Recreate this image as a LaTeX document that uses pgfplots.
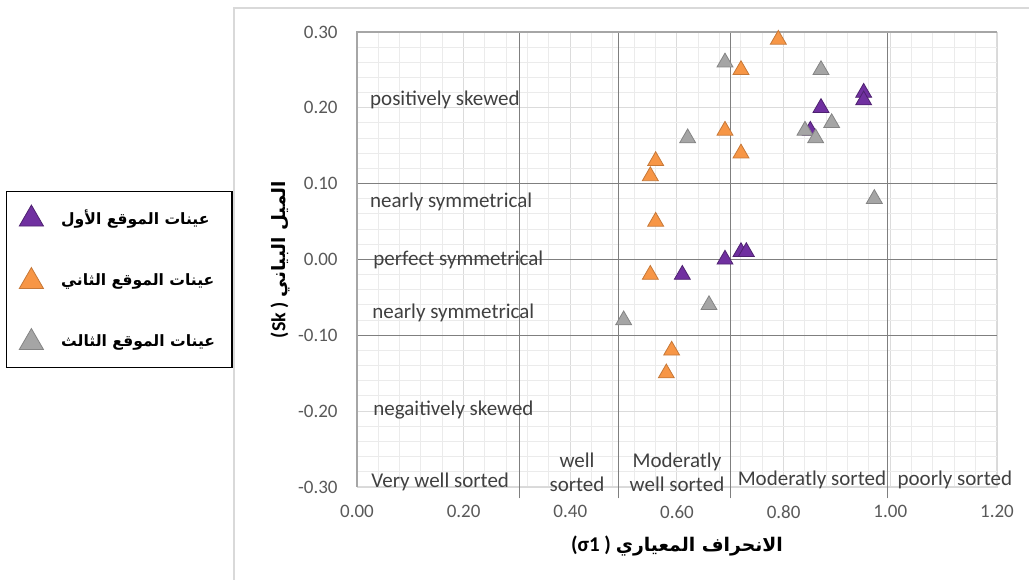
\documentclass[border=0pt]{standalone}
\usepackage{fontspec}
\setmainfont{Carlito}
\newfontfamily\arabicfont[Script=Arabic]{DejaVu Sans}
\TeXXeTstate=1
\usepackage{pgfplots}
\pgfplotsset{compat=1.18}
\pgfplotsset{tri legend/.style={legend image code/.code={\path (0cm,0cm) (0.6cm,0cm);\draw[##1,mark size=7pt] plot coordinates {(0.16cm,0cm)};}}}
\definecolor{cpurple}{HTML}{7030A0}
\definecolor{corange}{HTML}{F79646}
\definecolor{cgray}{HTML}{A5A5A5}
\definecolor{txt}{HTML}{404040}
\definecolor{tickc}{HTML}{595959}
\definecolor{bound}{HTML}{7F7F7F}
\begin{document}
\begin{tikzpicture}
\path[use as bounding box] (-178.5pt,-48pt) rectangle (336pt,243.5pt);
\begin{axis}[
  at={(0,0)}, anchor=south west,
  scale only axis, width=320pt, height=227.5pt,
  xmin=0, xmax=1.2, ymin=-0.3, ymax=0.3,
  clip=false,
  xtick={0,0.2,0.4,0.6,0.8,1.0,1.2},
  xticklabels={0.00,0.20,0.40,0.60,0.80,1.00,1.20},
  ytick={-0.3,-0.2,-0.1,0,0.1,0.2,0.3},
  yticklabels={-0.30,-0.20,-0.10,0.00,0.10,0.20,0.30},
  minor x tick num=4, minor y tick num=4,
  grid=both,
  major grid style={draw=black!14, line width=0.5pt},
  minor grid style={draw=black!8, line width=0.5pt},
  major tick length=0pt, minor tick length=0pt,
  axis line style={draw=black!15},
  tick label style={font=\fontsize{9.5}{11}\selectfont, text=tickc, inner sep=0pt},
  yticklabel style={xshift=-9.5pt},
  xticklabel style={yshift=-9pt},
  xlabel={\fontsize{10.5}{12}\selectfont\bfseries (σ1 ) {\arabicfont\fontsize{9.4}{11}\selectfont\beginR الانحراف المعياري\endR}},
  ylabel={\fontsize{10}{12}\selectfont\bfseries (Sk ) {\arabicfont\fontsize{9.2}{11}\selectfont\beginR الميل البياني\endR}},
  xlabel style={at={(axis description cs:0.5,-0.13)}, anchor=center, inner sep=0pt},
  ylabel style={at={(axis description cs:-0.12,0.5)}, anchor=center, inner sep=0pt},
  legend style={at={(-0.194,0.456)}, anchor=east, draw=black, line width=0.75pt,
    fill=white, font=\arabicfont\bfseries\fontsize{7.8}{10}\selectfont,
    row sep=17.8pt, inner xsep=6.5pt, inner ysep=6.8pt},
  legend cell align=left,
]
% category boundaries
\draw[bound, line width=0.75pt] (axis cs:0.305,-0.315) -- (axis cs:0.305,0.3);
\draw[bound, line width=0.75pt] (axis cs:0.49,-0.315) -- (axis cs:0.49,0.3);
\draw[bound, line width=0.75pt] (axis cs:0.70,-0.315) -- (axis cs:0.70,0.3);
\draw[bound, line width=0.75pt] (axis cs:0.995,-0.315) -- (axis cs:0.995,0.3);
\draw[bound, line width=0.75pt] (axis cs:0,0.1) -- (axis cs:1.2,0.1);
\draw[bound, line width=0.75pt] (axis cs:0,0) -- (axis cs:1.2,0);
\draw[bound, line width=0.75pt] (axis cs:0,-0.1) -- (axis cs:1.2,-0.1);
\draw[black!35, line width=0.75pt] (axis cs:0,-0.3) -- (axis cs:0,0.3) -- (axis cs:1.2,0.3);

\addplot[only marks, mark=triangle*, mark size=4.6pt,
  mark options={fill=cpurple, draw=cpurple!70!black, line width=0.4pt}, tri legend]
  coordinates {(0.95,0.22)(0.95,0.21)(0.87,0.20)(0.85,0.17)(0.72,0.01)(0.73,0.01)(0.69,0.00)(0.61,-0.02)};
\addlegendentry{\beginR عينات الموقع الأول\endR}
\addplot[only marks, mark=triangle*, mark size=4.6pt,
  mark options={fill=corange, draw=corange!80!black, line width=0.4pt}, tri legend]
  coordinates {(0.79,0.29)(0.72,0.25)(0.69,0.17)(0.72,0.14)(0.56,0.13)(0.55,0.11)(0.56,0.05)(0.55,-0.02)(0.59,-0.12)(0.58,-0.15)};
\addlegendentry{\beginR عينات الموقع الثاني\endR}
\addplot[only marks, mark=triangle*, mark size=4.6pt,
  mark options={fill=cgray, draw=cgray!80!black, line width=0.4pt}, tri legend]
  coordinates {(0.69,0.26)(0.87,0.25)(0.62,0.16)(0.89,0.18)(0.84,0.17)(0.86,0.16)(0.97,0.08)(0.66,-0.06)(0.50,-0.08)};
\addlegendentry{\beginR عينات الموقع الثالث\endR}

\tikzset{lab/.style={text=txt, font=\fontsize{10.5}{12}\selectfont, inner sep=0pt}}
\node[lab, anchor=west] at (axis cs:0.024,0.21) {positively skewed};
\node[lab, anchor=west] at (axis cs:0.024,0.076) {nearly symmetrical};
\node[lab, anchor=west] at (axis cs:0.03,0.0) {perfect symmetrical};
\node[lab, anchor=west] at (axis cs:0.028,-0.071) {nearly symmetrical};
\node[lab, anchor=west] at (axis cs:0.03,-0.199) {negaitively skewed};
\node[lab] at (axis cs:0.156,-0.293) {Very well sorted};
\node[lab, align=center] at (axis cs:0.4125,-0.28) {well\\sorted};
\node[lab, align=center] at (axis cs:0.6,-0.28) {Moderatly\\well sorted};
\node[lab] at (axis cs:0.853,-0.291) {Moderatly sorted};
\node[lab] at (axis cs:1.121,-0.291) {poorly sorted};
\end{axis}
\draw[black!15, line width=0.75pt] (-61.5pt,-46.5pt) -- (-61.5pt,239.5pt) -- (336pt,239.5pt);
\end{tikzpicture}
\end{document}
